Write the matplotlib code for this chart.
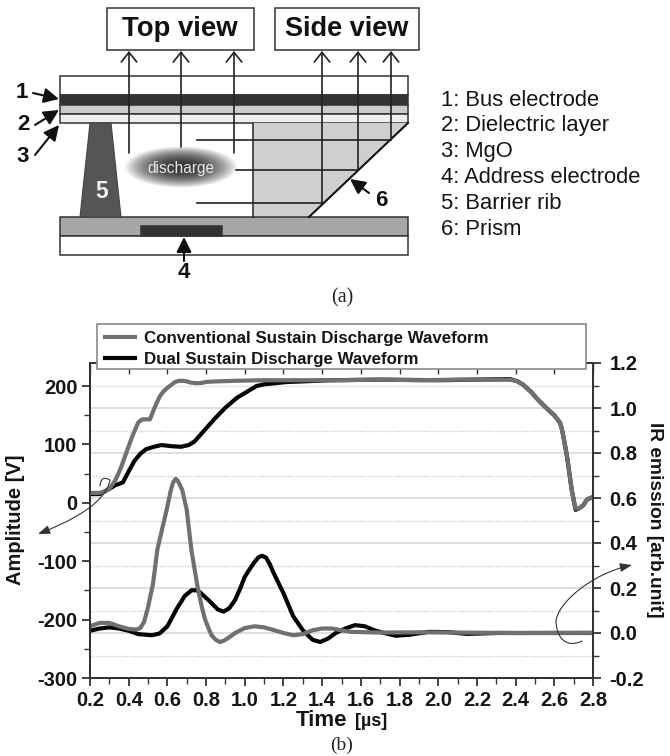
import numpy as np
import matplotlib
matplotlib.use("Agg")
import matplotlib.pyplot as plt
from matplotlib.patches import Rectangle, Polygon, FancyArrowPatch
from matplotlib.path import Path

plt.rcParams['font.family'] = ['Liberation Sans', 'DejaVu Sans']
plt.rcParams['axes.unicode_minus'] = False

# ---- chart data ----
conv_v_t = [0.20,0.24,0.27,0.30,0.33,0.36,0.39,0.42,0.45,0.47,0.49,0.51,0.53,0.56,0.58,0.60,0.62,0.64,0.66,0.68,0.70,0.72,0.74,0.77,0.80,0.85,0.95,1.10,1.30,1.50,1.70,1.90,2.10,2.30,2.37,2.41,2.44,2.48,2.52,2.56,2.60,2.63,2.64,2.65,2.66,2.67,2.68,2.69,2.70,2.71,2.73,2.75,2.77,2.80]
conv_v = [17,17,18,24,38,60,88,115,138,143,143,143,160,182,191,197,202,207,209,209,208,206,205,205,207,208,209,210,210,210,211,210,211,211,211,208,202,190,175,162,150,137,125,108,90,70,46,22,5,-10,-9,-4,6,10]
dual_v_t = [0.20,0.25,0.30,0.33,0.37,0.40,0.43,0.46,0.49,0.53,0.57,0.62,0.67,0.71,0.74,0.78,0.82,0.85,0.90,0.96,1.02,1.06,1.10,1.16,1.22,1.30,1.44,1.70,2.00,2.37,2.41,2.44,2.48,2.52,2.56,2.60,2.63,2.64,2.65,2.66,2.67,2.68,2.69,2.70,2.71,2.73,2.75,2.77,2.80]
dual_v = [15,15,24,30,35,54,72,84,92,96,99,97,96,99,105,120,135,146,163,180,192,200,203,205,207,208,210,211,210,212,208,202,190,175,162,150,137,125,108,90,70,46,22,5,-12,-9,-4,6,10]
conv_ir_t = [0.20,0.25,0.30,0.35,0.40,0.44,0.46,0.48,0.50,0.526,0.548,0.575,0.596,0.618,0.63,0.643,0.655,0.677,0.70,0.724,0.755,0.778,0.795,0.813,0.83,0.85,0.87,0.89,0.91,0.95,1.00,1.05,1.10,1.15,1.20,1.25,1.30,1.35,1.40,1.45,1.50,1.55,1.60,1.70,1.90,2.10,2.40,2.80]
conv_ir = [0.03,0.045,0.045,0.03,0.018,0.015,0.022,0.05,0.115,0.22,0.37,0.47,0.547,0.635,0.67,0.685,0.675,0.635,0.547,0.37,0.21,0.115,0.06,0.02,-0.012,-0.03,-0.04,-0.035,-0.025,0.0,0.022,0.03,0.025,0.013,0.0,-0.01,-0.005,0.012,0.02,0.02,0.012,0.005,0.004,0.002,0.003,0.002,0.0,0.001]
dual_ir_t = [0.20,0.25,0.30,0.35,0.40,0.45,0.52,0.56,0.60,0.65,0.69,0.725,0.75,0.77,0.82,0.86,0.89,0.92,0.95,0.98,1.00,1.03,1.05,1.07,1.09,1.11,1.13,1.15,1.20,1.25,1.30,1.35,1.39,1.43,1.47,1.52,1.57,1.62,1.67,1.72,1.78,1.85,1.95,2.05,2.15,2.30,2.60,2.80]
dual_ir = [0.01,0.02,0.025,0.02,0.01,-0.005,-0.01,-0.002,0.03,0.11,0.165,0.19,0.19,0.18,0.14,0.105,0.095,0.11,0.147,0.205,0.25,0.29,0.315,0.336,0.343,0.335,0.305,0.265,0.177,0.075,0.013,-0.03,-0.04,-0.025,0.0,0.02,0.035,0.03,0.012,0.0,-0.012,-0.008,0.005,0.004,-0.004,0.0,0.0,0.0]
legend_labels = ['Conventional Sustain Discharge Waveform', 'Dual Sustain Discharge Waveform']
x_ticks = [0.2,0.4,0.6,0.8,1.0,1.2,1.4,1.6,1.8,2.0,2.2,2.4,2.6,2.8]
left_ticks = [-300,-200,-100,0,100,200]
right_ticks = [-0.2,0.0,0.2,0.4,0.6,0.8,1.0,1.2]
key_labels = ['1: Bus electrode','2: Dielectric layer','3: MgO','4: Address electrode','5: Barrier rib','6: Prism']

W, H = 670, 756
fig = plt.figure(figsize=(W/100, H/100), dpi=100, facecolor='white')

# ---- waveform chart (b) ----
L, R, T, B = 90, 593, 363, 678
rect = [L/W, 1-B/H, (R-L)/W, (B-T)/H]
ax2 = fig.add_axes(rect, zorder=1)
ax = fig.add_axes(rect, zorder=2)
ax.patch.set_visible(False)
GRAY, BLACK = '#707070', '#050505'
ax.set_xlim(0.2, 2.8); ax2.set_xlim(0.2, 2.8)
ax.set_ylim(-300, 239.5); ax2.set_ylim(-0.2, 1.2)

l2, = ax.plot(dual_v_t, dual_v, color=BLACK, lw=3.0, solid_joinstyle='round', label=legend_labels[1])
l1, = ax.plot(conv_v_t, conv_v, color=GRAY, lw=3.0, solid_joinstyle='round', label=legend_labels[0])
ax2.plot(dual_ir_t, dual_ir, color=BLACK, lw=3.0, solid_joinstyle='round')
ax2.plot(conv_ir_t, conv_ir, color=GRAY, lw=3.0, solid_joinstyle='round')

ax.set_xticks(x_ticks)
ax.set_xticklabels([f'{v:.1f}' for v in x_ticks])
ax.set_xticks(np.arange(3, 28, 2)/10, minor=True)
ax.set_yticks(left_ticks)
ax.set_yticks([-250,-150,-50,50,150], minor=True)
ax2.set_xticks([])
ax2.yaxis.tick_right()
ax2.set_yticks(right_ticks)
ax2.set_yticklabels([f'{v:.1f}' for v in right_ticks])
ax2.set_yticks(np.arange(-1, 12, 2)/10, minor=True)
ax2.grid(True, which='major', axis='y', color='#d8d8d8', lw=1.2, ls='-')
ax2.grid(True, which='minor', axis='y', color='#cfcfcf', lw=1.0, ls=(0,(1,1)))
ax2.set_axisbelow(True)
ax2.tick_params(axis='y', which='major', direction='out', length=6, width=1.3, color='#333333',
                labelsize=14.5, labelcolor='#151515', pad=6)
ax2.tick_params(axis='y', which='minor', direction='out', length=4, width=1.0, color='#333333')
for lab in ax2.get_yticklabels(): lab.set_fontweight('bold')
ax.tick_params(axis='both', which='major', direction='out', length=6, width=1.3, color='#333333',
               labelsize=14.5, labelcolor='#151515', pad=3)
ax.tick_params(axis='both', which='minor', direction='out', length=4, width=1.0, color='#333333')
ax.tick_params(axis='x', which='major', top=True)
for sec in ax.xaxis.get_major_ticks():
    sec.tick2line.set_marker(3)
    sec.tick2line.set_markersize(8)
    sec.tick2line.set_markeredgewidth(1.0)
for lab in ax.get_xticklabels()+ax.get_yticklabels(): lab.set_fontweight('bold')
for a in (ax, ax2):
    for s in a.spines.values():
        s.set_linewidth(1.4); s.set_color('#333333')

# legend box drawn separately so that its height is exact
ax.add_patch(Rectangle((97/W, 1-369/H), (586-97)/W, 45/H, transform=fig.transFigure, fc='white',
                       ec='#8a8a8a', lw=1.2, clip_on=False, zorder=4))
leg = ax.legend(handles=[l1, l2], bbox_to_anchor=(97/W, 1-369/H-2.5/H, (586-97)/W, 45/H),
                bbox_transform=fig.transFigure, loc='center', mode='expand', ncol=1,
                frameon=False, prop={'weight':'bold','size':12.2}, handlelength=1.75, labelspacing=0.33,
                borderaxespad=0, handletextpad=0.55, borderpad=0.48)
leg.set_zorder(5)
for t in leg.get_texts(): t.set_color('#151515')

# ---- overlay in pixel coordinates: schematic (a) and labels ----
ov = fig.add_axes([0,0,1,1], zorder=5)
ov.set_xlim(0, W); ov.set_ylim(H, 0); ov.axis('off'); ov.patch.set_visible(False)
EDGE = '#333333'
def box(x0,y0,x1,y1,fc,lw=1.1,ec=EDGE,z=2):
    ov.add_patch(Rectangle((x0,y0),x1-x0,y1-y0,fc=fc,ec=ec,lw=lw,zorder=z))
box(106.5,7.5,253.5,50,'white')
box(275,7.5,419,50,'white')
ov.text(180,29,'Top view',ha='center',va='center',fontsize=19.8,fontweight='bold',color='#111111')
ov.text(347,29,'Side view',ha='center',va='center',fontsize=19.5,fontweight='bold',color='#111111')
box(60,76,408,95,'white')
box(60,95,408,105,'#333333')
box(60,105,408,114,'#cccccc')
box(60,114,408,123,'#eeeeee')
ov.add_patch(Polygon([(253,123),(408,123),(309,217),(253,217)],closed=True,fc='#cfcfcf',ec='none',zorder=2))
ov.plot([253,253],[123,217],color=EDGE,lw=1.2,zorder=3)
ov.plot([408,309],[123,217],color='#111111',lw=1.5,zorder=3)
ov.add_patch(Polygon([(90,123),(111,123),(121,217),(80,217)],closed=True,fc='#555555',ec='#444444',lw=0.8,zorder=3))
ov.text(101.5,191,'5',ha='center',va='center',fontsize=16.5,fontweight='bold',color='#eeeeee',zorder=4)
box(60,217,408,236,'#a6a6a6')
box(60,236,408,255,'white')
box(141,226,222,236,'#333333',z=3)

def vline_arrow(x,y0,y1,lw=1.2):
    ov.add_patch(FancyArrowPatch((x,y0),(x,y1),arrowstyle='->,head_length=5,head_width=4',mutation_scale=1.4,
                                 lw=lw,color='#222222',shrinkA=0,shrinkB=0,zorder=6))
for x,y0 in [(129,153),(181,147),(234,153),(322,203),(358,170),(391,140)]:
    vline_arrow(x,y0,51)
for y,x0,x1 in [(140,197,391),(170,236,358),(203,197,322)]:
    ov.plot([x0,x1],[y,y],color='#222222',lw=1.2,zorder=5)

# discharge glow
ex, ey, ea, eb = 181, 167.5, 57, 21
gx, gy = np.meshgrid(np.linspace(-1,1,200),np.linspace(-1,1,100))
rr = np.sqrt(gx**2+gy**2)
val = 0.22+0.78*np.clip(rr,0,1)**2.2
alpha = np.where(rr<1,1.0,0.0)
img = np.dstack([val,val,val,alpha])
ov.imshow(img,extent=(ex-ea,ex+ea,ey+eb,ey-eb),aspect='auto',zorder=4,interpolation='bilinear')
ov.set_xlim(0, W); ov.set_ylim(H, 0)
ov.text(181,168,'discharge',ha='center',va='center',fontsize=11.2,color='#e8e8e8',zorder=5)

def big(x,y,s):
    ov.text(x,y,s,ha='center',va='center',fontsize=16,fontweight='bold',color='#111111',zorder=7)
big(22,92,'1'); big(23,125,'2'); big(23,157,'3'); big(184,273,'4'); big(381,200,'6')
def bold_arrow(p0,p1):
    ov.add_patch(FancyArrowPatch(p0,p1,arrowstyle='-|>,head_length=7,head_width=3.5',mutation_scale=1.3,
                                 lw=1.5,color='#111111',shrinkA=0,shrinkB=0,zorder=7))
bold_arrow((33,93),(59,99))
bold_arrow((35,125),(59,110))
bold_arrow((35,155),(59,125))
bold_arrow((184,261),(184,237))
bold_arrow((369,193),(350,179))

for y,s in zip([100.5,125.5,151.5,177.5,203.5,229.5],key_labels):
    ov.text(441,y,s,ha='left',va='center',fontsize=15.8,color='#151515')
ov.text(342,298,'(a)',ha='center',va='center',fontsize=14.5,family='Liberation Serif',color='#222222')
ov.text(342,745,'(b)',ha='center',va='center',fontsize=14,family='Liberation Serif',color='#222222')

# axis titles
ov.text(16,520,'Amplitude [V]',rotation=90,ha='center',va='center',fontsize=14.5,fontweight='bold',color='#151515')
ov.text(654,520,'IR emission [arb.unit]',rotation=270,ha='center',va='center',fontsize=13.8,fontweight='bold',color='#151515')
ov.text(296,720,'Time',ha='left',va='center',fontsize=16,fontweight='bold',color='#151515')
ov.text(371,722,'[µs]',ha='center',va='center',fontsize=13,fontweight='bold',color='#151515')

# thin curved arrows
def curve(verts,codes):
    ov.add_patch(FancyArrowPatch(path=Path(verts,codes),arrowstyle='-|>,head_length=6,head_width=2.2',
                                 mutation_scale=1.2,lw=0.8,color='#333333',zorder=7,shrinkA=0,shrinkB=0))
C4 = Path.CURVE4
curve([(100,486),(101,476),(106,478),(110,480),(108,490),(100,510),(38,534)],
      [Path.MOVETO,C4,C4,C4,C4,C4,C4])
curve([(582,641),(568,648),(557,640),(556,622),(556,605),(590,574),(632,565)],
      [Path.MOVETO,C4,C4,C4,C4,C4,C4])

fig.savefig('out.png', dpi=100, facecolor='white')
